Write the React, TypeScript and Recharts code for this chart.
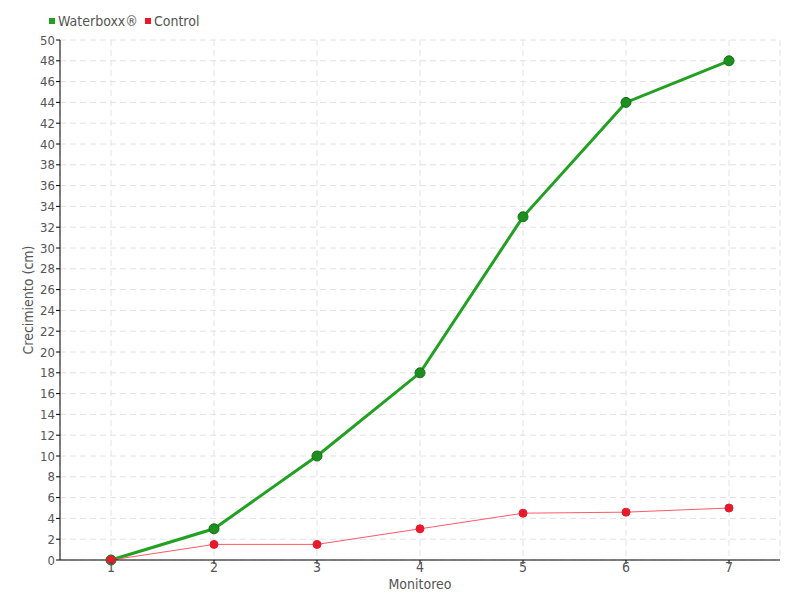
import React from "react";
import { LineChart, Line, XAxis, YAxis, CartesianGrid, Label } from "recharts";

const categories = ["1", "2", "3", "4", "5", "6", "7"];
const waterboxx = [0, 3, 10, 18, 33, 44, 48];
const control = [0, 1.5, 1.5, 3, 4.5, 4.6, 5];
const yTicks = [0, 2, 4, 6, 8, 10, 12, 14, 16, 18, 20, 22, 24, 26, 28, 30, 32, 34, 36, 38, 40, 42, 44, 46, 48, 50];
const seriesNames = ["Waterboxx®", "Control"];

const data = categories.map((c, i) => ({ m: c, w: waterboxx[i], c: control[i] }));

const FONT = "'DejaVu Sans Condensed', 'Liberation Sans Narrow', sans-serif";
const TXT = "#555";
const GREEN = "#22a022";
const RED = "#e8192c";

export default function App() {
  return (
    <div style={{ position: "absolute", left: 0, top: 0, width: 800, height: 600, background: "#fff" }}>
      <div
        style={{
          position: "absolute",
          left: 49,
          top: 13,
          display: "flex",
          alignItems: "center",
          fontFamily: FONT,
          fontSize: 14,
          color: TXT,
          zIndex: 2,
        }}
      >
        <span style={{ display: "inline-block", width: 6, height: 6, background: GREEN, marginRight: 3 }} />
        <span style={{ marginRight: 7 }}>{seriesNames[0]}</span>
        <span style={{ display: "inline-block", width: 6, height: 6, background: RED, marginRight: 3 }} />
        <span>{seriesNames[1]}</span>
      </div>
      <LineChart width={800} height={600} data={data} margin={{ top: 40, right: 20, left: 0, bottom: 0 }}>
        <CartesianGrid stroke="#e2e2e2" strokeDasharray="6 4" />
        <XAxis
          dataKey="m"
          height={40}
          padding={{ left: 51, right: 51 }}
          stroke="#000"
          tickLine={{ stroke: "#000" }}
          tickSize={4}
          tickMargin={0}
          tick={{ fill: TXT, fontSize: 14, fontFamily: FONT, dy: -2 }}
        >
          <Label
            value="Monitoreo"
            position="insideBottom"
            offset={11}
            fontSize={14}
            fontFamily={FONT}
            style={{ fill: TXT }}
          />
        </XAxis>
        <YAxis
          width={60}
          domain={[0, 50]}
          ticks={yTicks}
          interval={0}
          stroke="#000"
          tickSize={4}
          tickMargin={1}
          tick={{ fill: TXT, fontSize: 13, fontFamily: FONT }}
        >
          <Label
            value="Crecimiento (cm)"
            angle={-90}
            position="insideLeft"
            offset={28}
            fontSize={14}
            fontFamily={FONT}
            style={{ textAnchor: "middle", fill: TXT }}
          />
        </YAxis>
        <Line
          dataKey="w"
          name={seriesNames[0]}
          stroke={GREEN}
          strokeWidth={3}
          dot={{ r: 5, fill: "#1e8f1e", stroke: "#167016", strokeWidth: 1 }}
          isAnimationActive={false}
        />
        <Line
          dataKey="c"
          name={seriesNames[1]}
          stroke="#ff5a6a"
          strokeWidth={1}
          dot={{ r: 4, fill: RED, stroke: RED, strokeWidth: 1 }}
          isAnimationActive={false}
        />
      </LineChart>
    </div>
  );
}
